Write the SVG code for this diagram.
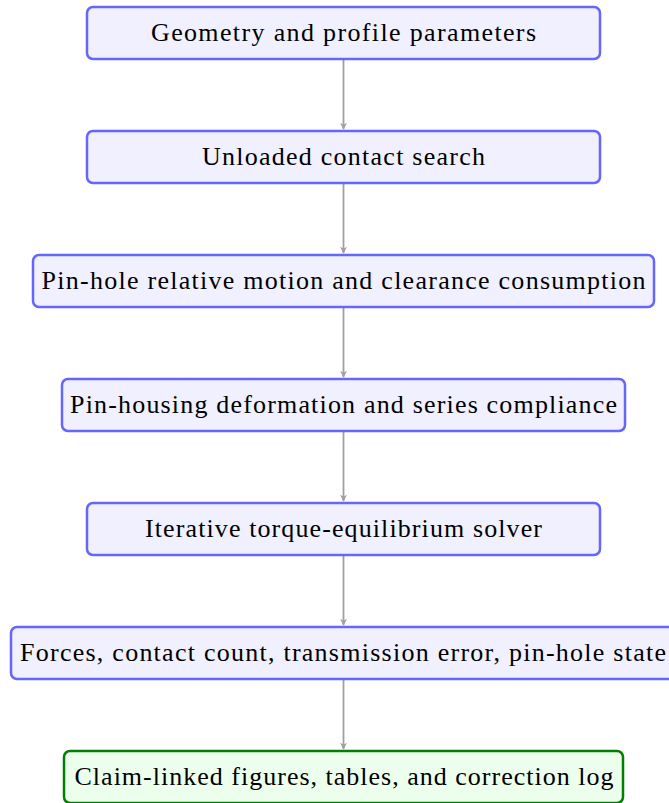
<svg xmlns="http://www.w3.org/2000/svg" width="669" height="803" viewBox="0 0 669 803">
<defs>
<style>
.n rect{fill:#f0f0ff;stroke:#6666ff;stroke-width:2.5}
.g rect{fill:#ecffec;stroke:#008000;stroke-width:2.5}
text{font-family:"Liberation Serif","Times New Roman",serif;font-size:26px;fill:#000;text-anchor:middle}
.c line{stroke:#a0a0a0;stroke-width:1.8;marker-end:url(#ah)}
</style>
<marker id="ah" viewBox="0 0 10 10" refX="9" refY="5" markerWidth="7" markerHeight="7" orient="auto" markerUnits="userSpaceOnUse">
<path d="M0,0 L10,5 L0,10 L3,5 Z" fill="#a0a0a0"/>
</marker>
</defs>
<g class="c">
<line x1="343.5" y1="60" x2="343.5" y2="129"/>
<line x1="343.5" y1="184" x2="343.5" y2="253"/>
<line x1="343.5" y1="308" x2="343.5" y2="377"/>
<line x1="343.5" y1="432" x2="343.5" y2="501"/>
<line x1="343.5" y1="556" x2="343.5" y2="625"/>
<line x1="343.5" y1="680" x2="343.5" y2="749"/>
</g>
<g id="n1" class="n"><rect x="87" y="7" width="513" height="52" rx="6"/><text x="343.5" y="41" textLength="385" lengthAdjust="spacing">Geometry and profile parameters</text></g>
<g id="n2" class="n"><rect x="87" y="131" width="513" height="52" rx="6"/><text x="343.5" y="165" textLength="283" lengthAdjust="spacing">Unloaded contact search</text></g>
<g id="n3" class="n"><rect x="33" y="255" width="621" height="52" rx="6"/><text x="343.5" y="289" textLength="604" lengthAdjust="spacing">Pin-hole relative motion and clearance consumption</text></g>
<g id="n4" class="n"><rect x="62" y="379" width="563" height="52" rx="6"/><text x="343.5" y="413" textLength="547" lengthAdjust="spacing">Pin-housing deformation and series compliance</text></g>
<g id="n5" class="n"><rect x="87" y="503" width="513" height="52" rx="6"/><text x="343.5" y="537" textLength="397" lengthAdjust="spacing">Iterative torque-equilibrium solver</text></g>
<g id="n6" class="n"><rect x="11" y="627" width="665" height="52" rx="6"/><text x="343" y="661" textLength="646" lengthAdjust="spacing">Forces, contact count, transmission error, pin-hole state</text></g>
<g id="n7" class="g"><rect x="64" y="751" width="559" height="52" rx="6"/><text x="344" y="785" textLength="539" lengthAdjust="spacing">Claim-linked figures, tables, and correction log</text></g>
</svg>
